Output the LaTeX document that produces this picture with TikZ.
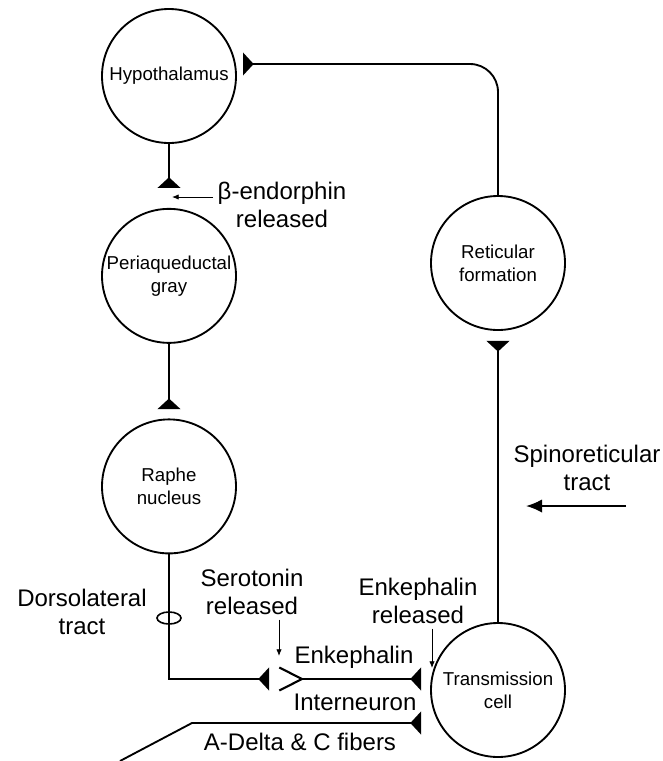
\documentclass[tikz,border=0pt]{standalone}
\usepackage{fontspec}
\setmainfont{Liberation Sans}
\usetikzlibrary{arrows.meta, positioning}

\begin{document}
\begin{tikzpicture}[
    x=0.75pt, y=-0.75pt,
    area/.style={
      circle, draw, line width=1.4pt, inner sep=0pt,
      minimum size=100.5pt, align=center,
      font=\fontsize{14}{17}\selectfont
    },
    lbl/.style={align=center, font=\fontsize{18}{21}\selectfont},
    syn/.style={-{Triangle[reversed, width=17pt, length=8pt]}, line width=1.4pt},
    rel/.style={-{Latex[length=5pt, width=4pt]}, line width=0.6pt},
    tractarr/.style={-{Latex[length=12pt, width=10pt]}, line width=1.4pt},
  ]
  \useasboundingbox (0,0) rectangle (663,761);

  % brain side
  \node[area] (hypo) at (169,76) {Hypothalamus};
  \node[area, below=48pt of hypo] (pag) {Periaqueductal\\gray};
  \node[area, below=56pt of pag] (raphe) {Raphe\\nucleus};
  \node[area] (retic) at (498,263) {Reticular\\formation};
  \node[area] (trans) at (498,690) {Transmission\\cell};

  % labels
  \node[lbl] (bendo) at (282,205) {β-endorphin\\released};
  \node[lbl] (dorso) at (82,612) {Dorsolateral\\tract};
  \node[lbl] (sero) at (252,592) {Serotonin\\released};
  \node[lbl] (enkrel) at (418,601) {Enkephalin\\released};
  \node[lbl] (enk) at (354,657) {Enkephalin};
  \node[lbl] (intlbl) at (355,702) {Interneuron};
  \node[lbl] (adelta) at (300,742) {A-Delta \& C fibers};
  \node[lbl] (spino) at (587,468) {Spinoreticular\\tract};

  \coordinate (hypend) at (243,64);
  \coordinate (serend) at (269,679);
  \coordinate (chev) at (302,679);
  \coordinate (enkend) at (421,679);
  \coordinate (afib) at (120,761);
  \coordinate (afend) at (421,723);
  \coordinate (bpt) at (172,197);
  \coordinate (serpt) at (279,656);
  \coordinate (enkpt) at (432,668);
  \coordinate (spinpt) at (526,506);

  % synapses
  \draw[syn, shorten >=15pt] (hypo) -- (pag);
  \draw[syn, shorten >=7pt] (pag) -- (raphe);
  \draw[syn, rounded corners=21pt] (retic.north) |- (hypend);
  \draw[syn, shorten >=7.5pt] (trans) -- (retic);
  \draw[syn] (raphe) |- (serend);
  \draw[line width=1.6pt] ([shift={(-17pt,8.6pt)}]chev) -- (chev) -- ([shift={(-17pt,-8.6pt)}]chev);
  \draw[syn] (chev) -- (enkend);
  \draw[syn] (afib) -- (192,723) -- (afend);
  \draw[line width=1.2pt] (169,618) ellipse [x radius=9pt, y radius=4.5pt];

  % released
  \draw[rel] (bendo.west |- bpt) -- (bpt);
  \draw[rel] (serpt |- sero.south) -- (serpt);
  \draw[rel] (enkpt |- enkrel.south) -- (enkpt);
  \draw[tractarr] ([xshift=75pt]spinpt) -- (spinpt);
\end{tikzpicture}
\end{document}
